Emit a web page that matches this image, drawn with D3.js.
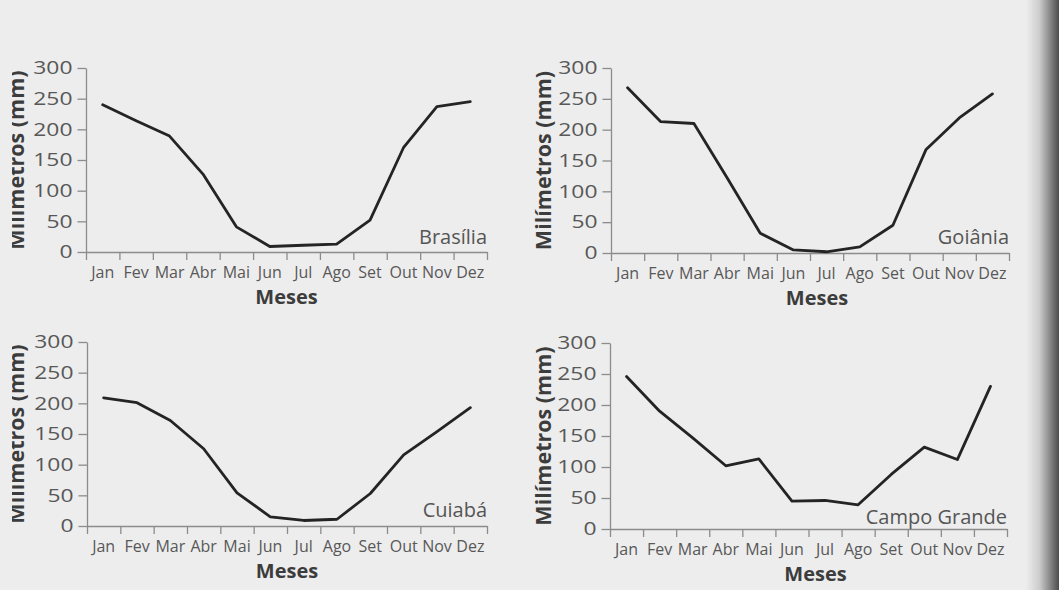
<!DOCTYPE html>
<html>
<head>
<meta charset="utf-8">
<script src="https://cdn.jsdelivr.net/npm/d3@7"></script>
<style>
  html, body { margin: 0; padding: 0; background: #ededed; }
  svg { display: block; font-family: "Open Sans", sans-serif; }
</style>
</head>
<body>
<svg id="chart" width="1059" height="590"></svg>
<script>
// ---------- data ----------
const months = ["Jan", "Fev", "Mar", "Abr", "Mai", "Jun", "Jul", "Ago", "Set", "Out", "Nov", "Dez"];
const brasilia    = [240, 214, 189, 127, 41, 9, 11, 13, 52, 170, 237, 245];
const goiania     = [268, 213, 210, 122, 32, 5, 2, 10, 45, 168, 219, 258];
const cuiaba      = [209, 201, 172, 126, 54, 15, 9, 11, 53, 116, 154, 193];
const campoGrande = [246, 190, 147, 102, 113, 45, 46, 39, 88, 132, 112, 230];
const cities = ["Brasília", "Goiânia", "Cuiabá", "Campo Grande"];
const series = [brasilia, goiania, cuiaba, campoGrande];
const yTicks = [0, 50, 100, 150, 200, 250, 300];
const xTitle = "Meses";
const yTitle = "Milímetros (mm)";

// ---------- layout ----------
const panels = [
  { x0: 86,  x1: 487,  yTop: 68,  yBot: 252, yLabX: 24,  mesesDx: 0, cityDy: -8 },
  { x0: 611, x1: 1009, yTop: 68,  yBot: 253, yLabX: 551, mesesDx: 7, cityDy: -9 },
  { x0: 87,  x1: 487,  yTop: 342, yBot: 526, yLabX: 24,  mesesDx: 0, cityDy: -9 },
  { x0: 610, x1: 1007, yTop: 343, yBot: 529, yLabX: 551, mesesDx: 7, cityDy: -5 }
];

const svg = d3.select("#chart");
const defs = svg.append("defs");

// page-fold shading at the right edge
const grad = defs.append("linearGradient").attr("id", "fold").attr("x1", "0").attr("x2", "1").attr("y1", "0").attr("y2", "0");
grad.append("stop").attr("offset", "0").attr("stop-color", "#ededed");
grad.append("stop").attr("offset", "0.4").attr("stop-color", "#cdcdcd");
grad.append("stop").attr("offset", "0.7").attr("stop-color", "#8e8e8e");
grad.append("stop").attr("offset", "1").attr("stop-color", "#4c4c4c");
svg.append("rect").attr("x", 1026).attr("y", 0).attr("width", 33).attr("height", 590).attr("fill", "url(#fold)");

defs.append("clipPath").attr("id", "leftclip")
  .append("rect").attr("x", 12).attr("y", 0).attr("width", 1100).attr("height", 590);

const axisColor = "#8c8c8c";
const textColor = "#585858";

panels.forEach((p, k) => {
  const g = svg.append("g");
  const x = d3.scaleBand().domain(months).range([p.x0, p.x1]);
  const xEdges = d3.scaleLinear().domain([0, months.length]).range([p.x0, p.x1]);
  const y = d3.scaleLinear().domain([0, 300]).range([p.yBot, p.yTop]);

  // x axis: tick marks on month boundaries
  const gx = g.append("g").attr("transform", `translate(0,${p.yBot})`)
    .call(d3.axisBottom(xEdges).tickValues(d3.range(months.length + 1)).tickFormat("").tickSize(8).tickSizeOuter(0));
  // month labels centred in each month
  const gxl = g.append("g").attr("transform", `translate(0,${p.yBot})`)
    .call(d3.axisBottom(x).tickSize(0).tickPadding(16));
  gxl.select(".domain").remove();
  gxl.selectAll("text").attr("font-size", 16).attr("fill", textColor)
    .attr("font-family", "'Open Sans', sans-serif").attr("dy", "0.72em").attr("y", 14.5);

  // y axis
  const sx = 1.27;
  const gy = g.append("g").attr("transform", `translate(${p.x0},0)`)
    .call(d3.axisLeft(y).tickValues(yTicks).tickSize(8.5).tickSizeOuter(0).tickPadding(5));
  gy.selectAll("text").attr("font-size", 18).attr("fill", textColor)
    .attr("font-family", "'Open Sans', sans-serif")
    .attr("x", -(8.5 + 5) / sx).attr("transform", `scale(${sx},1)`);

  [gx, gy].forEach(a => {
    a.select(".domain").attr("stroke", axisColor).attr("stroke-width", 1.3);
    a.selectAll(".tick line").attr("stroke", axisColor).attr("stroke-width", 1.3);
  });

  // data line
  const line = d3.line()
    .x((d, i) => x(months[i]) + x.bandwidth() / 2)
    .y(d => y(d));
  g.append("path").datum(series[k])
    .attr("d", line)
    .attr("fill", "none")
    .attr("stroke", "#242424")
    .attr("stroke-width", 2.8)
    .attr("stroke-linejoin", "round")
    .attr("stroke-linecap", "round");

  // city name
  g.append("text")
    .attr("x", p.x1).attr("y", p.yBot + p.cityDy)
    .attr("text-anchor", "end")
    .attr("font-size", 20)
    .attr("fill", "#555")
    .text(cities[k]);

  // x title
  g.append("text")
    .attr("x", (p.x0 + p.x1) / 2 + p.mesesDx).attr("y", p.yBot + 52)
    .attr("text-anchor", "middle")
    .attr("font-size", 20).attr("font-weight", "bold")
    .attr("fill", "#3c3c3c")
    .text(xTitle);

  // y title (left-hand ones are cut by the page edge, as in the scan)
  const holder = p.yLabX < 100 ? g.append("g").attr("clip-path", "url(#leftclip)") : g;
  holder.append("text")
    .attr("transform", `translate(${p.yLabX},${(p.yTop + p.yBot) / 2}) rotate(-90)`)
    .attr("text-anchor", "middle")
    .attr("font-size", 21.5).attr("font-weight", "bold")
    .attr("fill", "#3c3c3c")
    .text(yTitle);
});
</script>
</body>
</html>
